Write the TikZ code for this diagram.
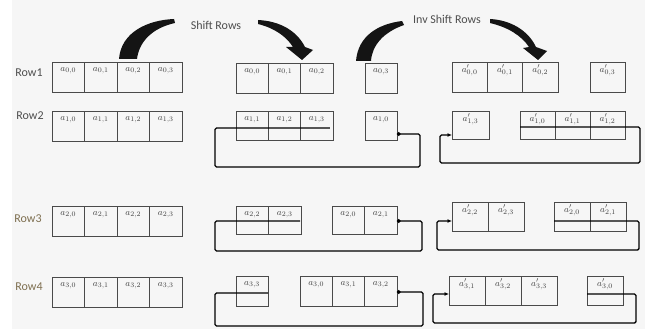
\documentclass[tikz,border=0pt]{standalone}
\usepackage{fontspec}
\setmainfont{Carlito}
\DeclareMathSizes{9.5}{9.5}{7}{5}
\usetikzlibrary{arrows.meta}

\definecolor{bgray}{HTML}{F6F6F6}
\definecolor{cellgray}{HTML}{4A4A4A}
\definecolor{txtgray}{HTML}{4E4E4E}
\definecolor{rowbrown}{HTML}{7E6F50}

\tikzset{
  cellbox/.style={draw=cellgray, line width=0.75pt, inner sep=0pt, outer sep=0pt},
  celltext/.style={inner sep=0pt, text=black!75, font=\fontsize{9.5}{10}\selectfont},
  rowlbl/.style={inner sep=0pt, font=\fontsize{12}{14}\selectfont},
  title/.style={inner sep=0pt, text=txtgray, font=\fontsize{12}{14}\selectfont},
  loopline/.style={draw=black, line width=1.4pt, rounded corners=1.5pt},
  dotstart/.style={{Circle[length=3.6pt]}-},
  arrowend/.style={-{Latex[length=4.5pt,width=4pt]}},
  brush/.style={fill=black!92, draw=none}
}

% one cell: name, left x, top y, width, height, label
\newcommand\mkcell[6]{%
  \node[cellbox, minimum width=#4pt, minimum height=#5pt, anchor=north west] (#1) at (#2,#3) {};%
  \node[celltext] (#1t) at ([yshift=-8.5pt]#1.north) {#6};%
}

\begin{document}
\begin{tikzpicture}[x=1pt, y=-1pt]
  \useasboundingbox (0,0) rectangle (645,329);
  \fill[white] (0,0) rectangle (645,329);
  \fill[bgray] (12,0) rectangle (645,329);

  % row labels
  \node[rowlbl, text=txtgray] (row1) at (29,73) {Row1};
  \node[rowlbl, text=txtgray] (row2) at (30,116) {Row2};
  \node[rowlbl, text=rowbrown] (row3) at (28,219) {Row3};
  \node[rowlbl, text=rowbrown] (row4) at (29,287) {Row4};

  % state before shifting
  \foreach \r/\y in {0/62,1/111,2/206,3/277}{%
    \foreach \c in {0,...,3}{%
      \mkcell{l\r\c}{52+32.5*\c}{\y}{32.5}{30}{$a_{\r,\c}$}%
    }%
  }

  % after Shift Rows
  \mkcell{m00}{236}{63}{32.3}{30}{$a_{0,0}$}
  \mkcell{m01}{268.3}{63}{32.3}{30}{$a_{0,1}$}
  \mkcell{m02}{300.6}{63}{32.3}{30}{$a_{0,2}$}
  \mkcell{m03}{365}{63}{32}{30}{$a_{0,3}$}

  \mkcell{m11}{236}{111}{32.3}{29}{$a_{1,1}$}
  \mkcell{m12}{268.3}{111}{32.3}{29}{$a_{1,2}$}
  \mkcell{m13}{300.6}{111}{32.3}{29}{$a_{1,3}$}
  \mkcell{m10}{365}{111}{32}{29}{$a_{1,0}$}

  \mkcell{m22}{236}{206}{32.5}{28}{$a_{2,2}$}
  \mkcell{m23}{268.5}{206}{32.5}{28}{$a_{2,3}$}
  \mkcell{m20}{332}{206}{32.5}{28}{$a_{2,0}$}
  \mkcell{m21}{364.5}{206}{32.5}{28}{$a_{2,1}$}

  \mkcell{m33}{236}{276}{32}{30}{$a_{3,3}$}
  \mkcell{m30}{300}{276}{32.3}{30}{$a_{3,0}$}
  \mkcell{m31}{332.3}{276}{32.3}{30}{$a_{3,1}$}
  \mkcell{m32}{364.6}{276}{32.3}{30}{$a_{3,2}$}

  % after Inv Shift Rows
  \mkcell{r00}{452}{62}{35.3}{30}{$a'_{0,0}$}
  \mkcell{r01}{487.3}{62}{35.3}{30}{$a'_{0,1}$}
  \mkcell{r02}{522.6}{62}{35.3}{30}{$a'_{0,2}$}
  \mkcell{r03}{590}{62}{35}{30}{$a'_{0,3}$}

  \mkcell{r13}{452}{111}{37}{28}{$a'_{1,3}$}
  \mkcell{r10}{520}{111}{35}{28}{$a'_{1,0}$}
  \mkcell{r11}{555}{111}{35}{28}{$a'_{1,1}$}
  \mkcell{r12}{590}{111}{35}{28}{$a'_{1,2}$}

  \mkcell{r22}{452}{202}{36}{29}{$a'_{2,2}$}
  \mkcell{r23}{488}{202}{36}{29}{$a'_{2,3}$}
  \mkcell{r20}{554}{202}{36}{29}{$a'_{2,0}$}
  \mkcell{r21}{590}{202}{36}{29}{$a'_{2,1}$}

  \mkcell{r31}{449}{276}{36}{29}{$a'_{3,1}$}
  \mkcell{r32}{485}{276}{36}{29}{$a'_{3,2}$}
  \mkcell{r33}{521}{276}{36}{29}{$a'_{3,3}$}
  \mkcell{r30}{587}{276}{36}{29}{$a'_{3,0}$}

  % wrap-around loops of the shifted bytes
  \draw[loopline, dotstart] ([yshift=-8.5pt]m10.east) -| (420,167) -| (215,128)
        -- ([xshift=-3pt,yshift=-2.5pt]m13.east);
  \draw[loopline, dotstart] ([yshift=-1pt]m21.east) -| (422,251) -| (215,221)
        -- ([xshift=-1pt,yshift=-1pt]m23.east);
  \draw[loopline, dotstart] ([yshift=-1pt]m32.east) -| (423,326) -| (215,293)
        -- ([yshift=-2pt]m33.east);

  \draw[loopline, arrowend] ([yshift=-2pt]r10.west) -| (640,163) -| (440,135)
        -- ([yshift=-10pt]r13.west);
  \draw[loopline, arrowend] ([yshift=-4.5pt]r20.west) -| (639,250) -| (437,221)
        -- ([yshift=-4.5pt]r22.west);
  \draw[loopline, arrowend] ([yshift=-3.5pt]r30.west) -| (636,323) -| (433,294)
        -- ([yshift=-3.5pt]r31.west);

  % titles
  \node[title] (sr) at (216,25) {Shift Rows};
  \node[title] (isr) at (447,19) {Inv Shift Rows};

  % brush-stroke arrows
  \fill[brush] (174,19) .. controls (148,20) and (121,32) .. (119,59)
        -- (137,59) .. controls (139,42) and (152,28) .. (175,23) -- cycle;
  \fill[brush] (258,20) .. controls (280,21) and (297,31) .. (305,47)
        -- (313,50) -- (302,60) -- (286,47) -- (293,47)
        .. controls (286,36) and (274,28) .. (258,24) -- cycle;
  \fill[brush] (402,21) .. controls (378,24) and (358,36) .. (356,61)
        -- (371,61) .. controls (372,45) and (384,32) .. (404,25) -- cycle;
  \fill[brush] (490,19) .. controls (510,20) and (528,30) .. (536,47)
        -- (547,51) -- (538,60) -- (523,48) -- (529,47)
        .. controls (521,35) and (507,27) .. (490,23) -- cycle;
\end{tikzpicture}
\end{document}
